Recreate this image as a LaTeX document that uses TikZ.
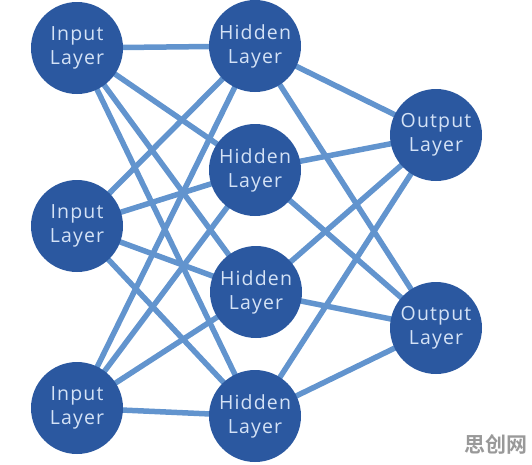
\documentclass[tikz,border=0pt]{standalone}
\usepackage{fontspec}
\newfontfamily\layerfont{Open Sans}[LetterSpace=6]
\newfontfamily\cjk{Noto Sans CJK SC}[BoldFont={Noto Sans CJK SC Bold}]
\usetikzlibrary{backgrounds}
\definecolor{nodeblue}{RGB}{43,88,160}
\definecolor{linkblue}{RGB}{98,148,206}
\definecolor{textblue}{RGB}{212,226,246}
\tikzset{
  neuron/.style={circle, fill=nodeblue, minimum size=92pt, inner sep=0pt,
    text=textblue, align=center, font=\layerfont\fontsize{19.5}{24}\selectfont},
  link/.style={draw=linkblue, line width=5.5pt}
}
\begin{document}
\begin{tikzpicture}[x=1pt, y=-1pt, line join=round, line cap=round]
	\useasboundingbox (0,0) rectangle (532,464);
	\node[neuron] (in1) at (77,48) {Input\\Layer};
	\node[neuron] (in2) at (77,226) {Input\\Layer};
	\node[neuron] (in3) at (77,408) {Input\\Layer};
	\node[neuron] (hid1) at (255,46) {Hidden\\Layer};
	\node[neuron] (hid2) at (255,170) {Hidden\\Layer};
	\node[neuron] (hid3) at (256,292) {Hidden\\Layer};
	\node[neuron] (hid4) at (255,416) {Hidden\\Layer};
	\node[neuron] (out1) at (436,135) {Output\\Layer};
	\node[neuron] (out2) at (436,328) {Output\\Layer};
	\begin{scope}[on background layer]
		\foreach \i in {1,2,3}
		\foreach \h in {1,...,4}
		\draw[link] (in\i.center) -- (hid\h.center);
		\foreach \h in {1,...,4}
		\foreach \o in {1,2}
		\draw[link] (hid\h.center) -- (out\o.center);
	\end{scope}
	\node[text=black!40, font=\cjk\bfseries\fontsize{21}{21}\selectfont, inner sep=0pt] (mark) at (496,444) {思创网};
\end{tikzpicture}
\end{document}
